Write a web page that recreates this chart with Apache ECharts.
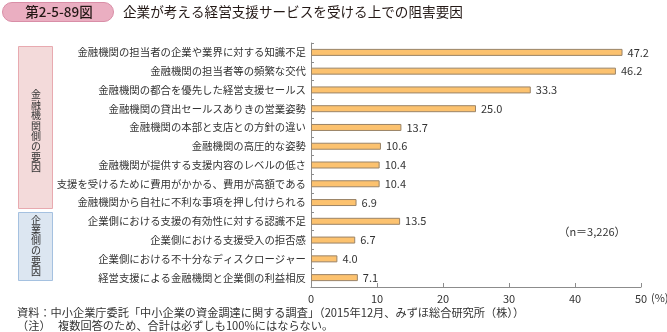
<!DOCTYPE html>
<html>
<head>
<meta charset="utf-8">
<script src="https://cdn.jsdelivr.net/npm/echarts@6/dist/echarts.min.js"></script>
<style>
html,body{margin:0;padding:0;background:#fff;}
#chart{width:667px;height:332px;}
</style>
</head>
<body>
<div id="chart"></div>
<script>
// 阻害要因の項目（上から順）
const categories = [
  '金融機関の担当者の企業や業界に対する知識不足',
  '金融機関の担当者等の頻繁な交代',
  '金融機関の都合を優先した経営支援セールス',
  '金融機関の貸出セールスありきの営業姿勢',
  '金融機関の本部と支店との方針の違い',
  '金融機関の高圧的な姿勢',
  '金融機関が提供する支援内容のレベルの低さ',
  '支援を受けるために費用がかかる、費用が高額である',
  '金融機関から自社に不利な事項を押し付けられる',
  '企業側における支援の有効性に対する認識不足',
  '企業側における支援受入の拒否感',
  '企業側における不十分なディスクロージャー',
  '経営支援による金融機関と企業側の利益相反'
];
// 回答割合（%）
const values = [47.2, 46.2, 33.3, 25.0, 13.7, 10.6, 10.4, 10.4, 6.9, 13.5, 6.7, 4.0, 7.1];
// 横軸目盛
const xTicks = [0, 10, 20, 30, 40, 50];
// 区分見出し
const groupBank = '金融機関側の要因';
const groupFirm = '企業側の要因';

const FONT = '"Noto Sans CJK JP", "Noto Sans", sans-serif';
const chart = echarts.init(document.getElementById('chart'));

// 縦書きの見出し：1文字ずつ積み上げる
function verticalText(str, cx, cy, pitch, size) {
  const chars = Array.from(str);
  const top = cy - (chars.length - 1) * pitch / 2;
  return chars.map((ch, i) => ({
    type: 'text', x: cx, y: top + i * pitch,
    style: { text: ch, fill: '#333', font: size + 'px ' + FONT, textAlign: 'center', textVerticalAlign: 'middle' }
  }));
}

chart.setOption({
  animation: false,
  textStyle: { fontFamily: FONT },
  grid: { left: 311, right: 26, top: 43, bottom: 45, containLabel: false },
  xAxis: {
    type: 'value',
    min: xTicks[0],
    max: xTicks[xTicks.length - 1],
    interval: 10,
    axisLine: { show: true, lineStyle: { color: '#8c8c8c', width: 1 } },
    axisTick: { show: true, inside: true, length: 4, lineStyle: { color: '#8c8c8c' } },
    splitLine: { show: false },
    axisLabel: { color: '#333', fontSize: 11, margin: 6, fontFamily: FONT }
  },
  yAxis: {
    type: 'category',
    data: categories,
    inverse: true,
    axisLine: { show: true, lineStyle: { color: '#8c8c8c', width: 1 } },
    axisTick: { show: true, inside: true, length: 3, lineStyle: { color: '#8c8c8c' } },
    axisLabel: { color: '#333', fontSize: 10.4, margin: 5, fontFamily: FONT }
  },
  series: [{
    type: 'bar',
    data: values,
    barWidth: 7,
    itemStyle: { color: '#fcc26f', borderColor: '#9a8468', borderWidth: 1 },
    label: {
      show: true,
      position: 'right',
      distance: 5,
      color: '#333',
      fontSize: 11,
      fontFamily: FONT,
      formatter: p => p.value.toFixed(1)
    }
  }],
  graphic: [
    // 図番号バッジ
    { type: 'rect', shape: { x: 2.5, y: 2.5, width: 111, height: 19, r: 9.5 },
      style: { fill: '#eaaec1', stroke: '#d98ea7', lineWidth: 1 } },
    { type: 'text', x: 59, y: 12,
      style: { text: '第2-5-89図', fill: '#231815', font: '500 13.5px ' + FONT, textAlign: 'center', textVerticalAlign: 'middle' } },
    { type: 'text', x: 123, y: 12,
      style: { text: '企業が考える経営支援サービスを受ける上での阻害要因', fill: '#231815', font: '13.6px ' + FONT, textVerticalAlign: 'middle' } },
    // 区分ボックス
    { type: 'rect', shape: { x: 18.5, y: 46.5, width: 34, height: 162 },
      style: { fill: '#f3dada', stroke: '#e8aab0', lineWidth: 1 } },
    ...verticalText(groupBank, 36, 131, 10.4, 10),
    { type: 'rect', shape: { x: 18.5, y: 212.5, width: 34, height: 68 },
      style: { fill: '#dce6f1', stroke: '#a5c1e0', lineWidth: 1 } },
    ...verticalText(groupFirm, 36, 245.5, 10.2, 10),
    // 単位・標本数
    { type: 'text', x: 651, y: 298,
      style: { text: '(%)', fill: '#333', font: '11px ' + FONT, textVerticalAlign: 'middle' } },
    { type: 'text', x: 592, y: 232,
      style: { text: '（n＝3,226）', fill: '#333', font: '11px ' + FONT, textAlign: 'center', textVerticalAlign: 'middle' } },
    // 注記
    { type: 'text', x: 17, y: 313,
      style: { text: '資料：中小企業庁委託「中小企業の資金調達に関する調査」（2015年12月、みずほ総合研究所（株））', fill: '#333', font: '11.2px ' + FONT, textVerticalAlign: 'middle' } },
    { type: 'text', x: 17, y: 326,
      style: { text: '（注）   複数回答のため、合計は必ずしも100%にはならない。', fill: '#333', font: '11.2px ' + FONT, textVerticalAlign: 'middle' } }
  ]
});
</script>
</body>
</html>
